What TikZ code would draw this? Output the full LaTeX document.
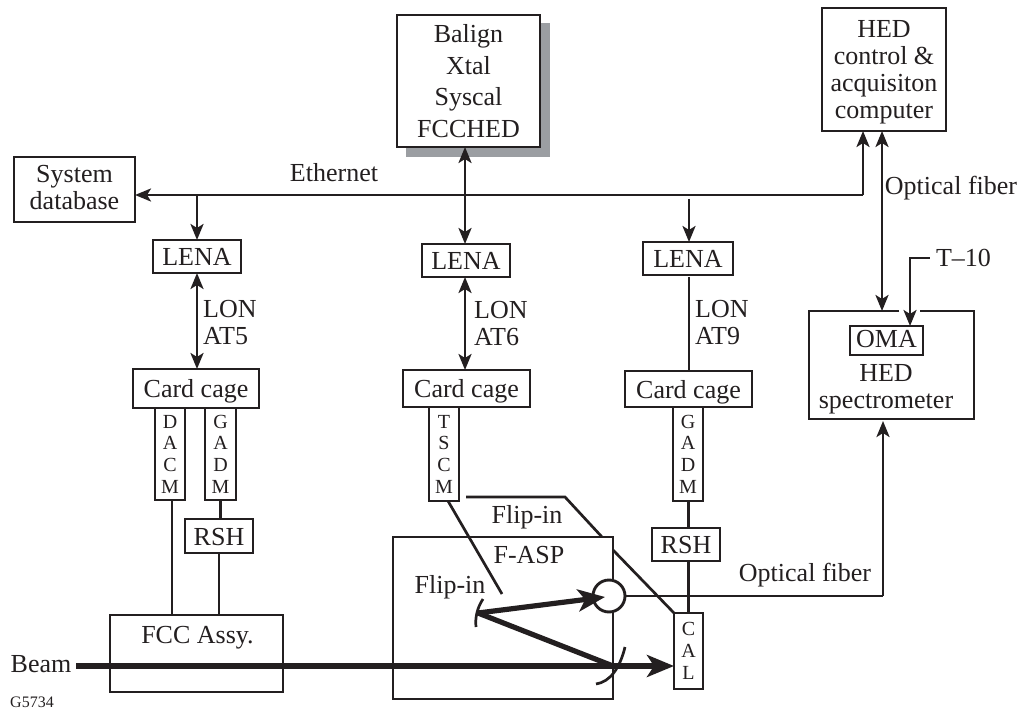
\documentclass[tikz,border=0pt]{standalone}
\usepackage{fontspec}
\setmainfont{Liberation Serif}
\usetikzlibrary{arrows.meta}
\definecolor{shadowgray}{RGB}{155,158,162}
\definecolor{inkgray}{RGB}{35,31,32}
\tikzset{
  box/.style={draw=inkgray, line width=2.9pt, fill=white, inner sep=0pt, outer sep=0pt, align=center, text=inkgray},
  lbl/.style={inner sep=0pt, align=center, text=inkgray},
  big/.style={font=\fontsize{26}{27}\selectfont},
  caps/.style={big, text height=18pt, text depth=0pt},
  desc/.style={big, text height=18pt, text depth=6pt},
  stack/.style={font=\fontsize{20}{21.7}\selectfont},
  wire/.style={draw=inkgray, line width=2.7pt},
  arr/.style={wire, -{Stealth[length=16pt,width=13pt,inset=4pt]}},
  biarr/.style={wire, {Stealth[length=16pt,width=13pt,inset=4pt]}-{Stealth[length=16pt,width=13pt,inset=4pt]}},
  beam/.style={draw=inkgray, line width=5.2pt},
  beamarr/.style={beam, -{Stealth[length=27pt,width=22pt,inset=7pt]}},
}
\begin{document}
\begin{tikzpicture}[x=1pt,y=-1pt]
  \useasboundingbox (0,0) rectangle (1019,711);
  % top row
  \node[fill=shadowgray, minimum width=144pt, minimum height=134pt] (balshadow) at (478,90) {};
  \node[box, font=\fontsize{26}{31.7}\selectfont, minimum width=143pt, minimum height=132pt] (bal) at (468.5,81) {Balign\\Xtal\\Syscal\\FCCHED};
  \node[box, minimum width=124pt, minimum height=123pt] (hed) at (884,69.5) {};
  \node[lbl, big] (hedlbl) at (884,71.8) {HED\\control \&\\acquisiton\\computer};
  \node[box, minimum width=121pt, minimum height=65pt] (sysdb) at (74.5,189.5) {};
  \node[lbl, big] (syslbl) at (74.5,187.5) {System\\database};
  \node[lbl, caps] (ether) at (334,173) {Ethernet};
  % bus
  \coordinate (busa) at (197,195);
  \coordinate (busc) at (689,199);
  \coordinate (busr) at (863,195);
  \draw[arr] (busr) -- (sysdb.east |- busr);
  \draw[arr] (busr) -- (hed.south -| busr);
  % column 1
  \node[box, caps, minimum width=88pt, minimum height=33pt] (lena1) at (197,256.5) {LENA};
  \node[box, caps, minimum width=126pt, minimum height=39pt] (cage1) at (196,388.5) {Card cage};
  \node[box, stack, minimum width=30pt, minimum height=92pt] (dacm) at (170,454) {D\\A\\C\\M};
  \node[box, stack, minimum width=31pt, minimum height=92pt] (gadm1) at (220.5,454) {G\\A\\D\\M};
  \node[box, caps, minimum width=68pt, minimum height=34pt] (rsh1) at (219,536) {RSH};
  \node[box, minimum width=173pt, minimum height=77pt] (fcc) at (196.5,653.5) {};
  \node[lbl, desc] (fcclbl) at (197.5,637) {FCC Assy.};
  \node[lbl, big, anchor=west, align=left] (lon1) at (203,323) {LON\\AT5};
  \draw[arr] (busa) -- (lena1.north -| busa);
  \draw[biarr] (lena1.south -| busa) -- (cage1.north -| busa);
  \draw[wire] (dacm.south) ++(2,0) -- (fcc.north -| 172,0);
  \draw[wire] (gadm1.south) -- (rsh1.north -| gadm1.south);
  \draw[wire] (rsh1.south) -- (fcc.north -| rsh1.south);
  % column 2
  \coordinate (midb) at (465,147);
  \node[box, caps, minimum width=88pt, minimum height=33pt] (lena2) at (466,260.5) {LENA};
  \node[box, caps, minimum width=127pt, minimum height=37pt] (cage2) at (466.5,388.5) {Card cage};
  \node[box, stack, minimum width=30pt, minimum height=94pt] (tscm) at (444,454) {T\\S\\C\\M};
  \node[lbl, big, anchor=west, align=left] (lon2) at (474,324) {LON\\AT6};
  \draw[biarr] (midb) -- (lena2.north -| midb);
  \draw[biarr] (lena2.south -| midb) -- (cage2.north -| midb);
  % column 3
  \node[box, caps, minimum width=90pt, minimum height=33pt] (lena3) at (688,258.5) {LENA};
  \node[box, caps, minimum width=127pt, minimum height=36pt] (cage3) at (688.5,389) {Card cage};
  \node[box, stack, minimum width=30pt, minimum height=94pt] (gadm3) at (688,454) {G\\A\\D\\M};
  \node[box, caps, minimum width=68pt, minimum height=33pt] (rsh2) at (686,544.5) {RSH};
  \node[box, stack, minimum width=29pt, minimum height=76pt] (cal) at (688.5,651) {C\\A\\L};
  \node[lbl, big, anchor=west, align=left] (lon3) at (695,323) {LON\\AT9};
  \coordinate (lena3low) at (689,277);
  \draw[arr] (busc) -- (lena3.north -| busc);
  \draw[wire] (lena3low) -- (cage3.north -| lena3low);
  \draw[wire] (gadm3.south -| cal.north) -- (rsh2.north -| cal.north);
  \draw[wire] (rsh2.south -| cal.north) -- (cal.north);
  % spectrometer
  \coordinate (specl) at (899,311);
  \coordinate (specr) at (920,311);
  \draw[box] (specl) -- (809,311) -- (809,419) -- (974,419) -- (974,311) -- (specr);
  \coordinate (specb) at (883,421);
  \node[box, big, text height=18pt, text depth=4pt, minimum width=73pt, minimum height=29pt] (oma) at (886.5,340.5) {OMA};
  \node[lbl, big] (speclbl) at (886,389.5) {HED\\spectrometer};
  \node[lbl, big] (t10) at (963.5,258) {T--10};
  \coordinate (tdown) at (910,258);
  \draw[wire, -{Stealth[length=16pt,width=13pt,inset=4pt]}] (t10.west) ++(-6,0) -- (tdown) -- (tdown |- oma.north);
  \coordinate (fibt) at (882,131);
  \coordinate (fibb) at (882,311);
  \draw[biarr] (fibt) -- (fibb);
  \node[lbl, desc] (fib1) at (951,189) {Optical fiber};
  % F-ASP
  \node[box, fill=none, minimum width=220pt, minimum height=162pt] (fasp) at (503,618) {};
  \node[lbl, caps] (fasplbl) at (529,554.5) {F-ASP};
  \node[lbl, desc] (flip1) at (527,517) {Flip-in};
  \node[lbl, desc] (flip2) at (450,587) {Flip-in};
  \coordinate (flipa) at (466,497);
  \coordinate (flipb) at (565,497);
  \coordinate (flipc) at (602,537);
  \coordinate (flipd) at (613,550);
  \coordinate (flipe) at (502,594);
  \draw[wire] (flipa) -- (flipb) -- (flipc);
  \draw[wire] (flipd) -- (cal.north west);
  \draw[wire] (448,501) -- (flipe);
  % optical path
  \node[box, circle, minimum size=32pt] (det) at (609,596) {};
  \coordinate (dettip) at (605,597);
  \coordinate (mirt) at (478,613);
  \coordinate (mirb) at (613,666);
  \coordinate (beamin) at (76,666);
  \draw[wire] (483,599) .. controls (477,608) and (475,618) .. (476,627);
  \draw[wire] (625,647) .. controls (620,668) and (610,682) .. (596,684);
  \draw[beam] (mirb) -- (mirt);
  \draw[beamarr] (mirt) -- (dettip);
  \draw[beamarr] (beamin) -- (cal.west |- beamin);
  \node[lbl, desc] (beamlbl) at (41,666) {Beam};
  \node[lbl, font=\fontsize{16}{18}\selectfont] (gnum) at (32,702.5) {G5734};
  \node[lbl, desc] (fib2) at (805,575) {Optical fiber};
  \coordinate (fibc) at (883,596);
  \draw[wire] (det.east) -- (fibc);
  \draw[arr] (fibc) -- (specb);
\end{tikzpicture}
\end{document}
